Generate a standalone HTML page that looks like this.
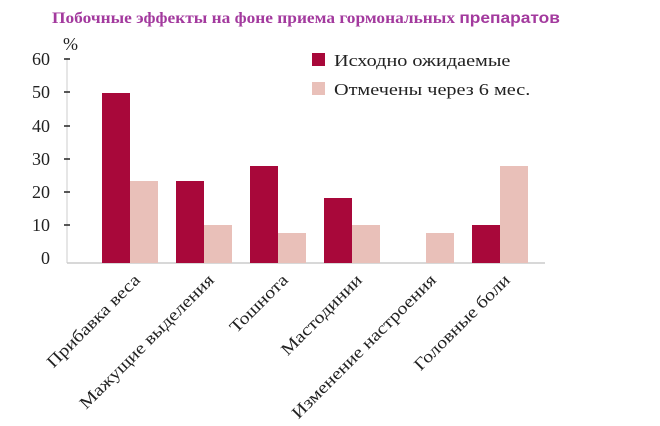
<!DOCTYPE html>
<html><head><meta charset="utf-8"><style>
body{margin:0;background:#fff;width:660px;height:421px;overflow:hidden}
svg text{font-family:"Liberation Serif",serif}
</style></head><body>
<svg width="660" height="421" xmlns="http://www.w3.org/2000/svg">
<text transform="translate(52,23) scale(1.12,1)" font-size="15.5" font-weight="bold" fill="#a33a9e">Побочные эффекты на фоне приема гормональных <tspan font-family="Liberation Sans, sans-serif">препаратов</tspan></text>
<text x="63" y="50" font-size="18" fill="#222">%</text>
<line x1="67" y1="58" x2="67" y2="263" stroke="#ccc" stroke-width="1"/>
<line x1="67" y1="263" x2="545" y2="263" stroke="#ccc" stroke-width="1.5"/>
<g stroke="#222" stroke-width="1.5">
<line x1="64" y1="59" x2="70" y2="59"/><line x1="64" y1="92" x2="70" y2="92"/><line x1="64" y1="126" x2="70" y2="126"/><line x1="64" y1="159" x2="70" y2="159"/><line x1="64" y1="192" x2="70" y2="192"/><line x1="64" y1="225" x2="70" y2="225"/>
</g>
<g font-size="18" fill="#222" text-anchor="end">
<text x="50" y="65">60</text><text x="50" y="98">50</text><text x="50" y="132">40</text><text x="50" y="165">30</text><text x="50" y="198">20</text><text x="50" y="231">10</text><text x="50" y="264">0</text>
</g>
<g fill="#a8083a">
<rect x="102" y="93" width="28" height="170"/>
<rect x="176" y="181" width="28" height="82"/>
<rect x="250" y="166" width="28" height="97"/>
<rect x="324" y="198" width="28" height="65"/>
<rect x="472" y="225" width="28" height="38"/>
</g>
<g fill="#e9c0b9">
<rect x="130" y="181" width="28" height="82"/>
<rect x="204" y="225" width="28" height="38"/>
<rect x="278" y="233" width="28" height="30"/>
<rect x="352" y="225" width="28" height="38"/>
<rect x="426" y="233" width="28" height="30"/>
<rect x="500" y="166" width="28" height="97"/>
</g>
<rect x="312" y="53" width="13" height="13" fill="#a8083a"/>
<rect x="312" y="82" width="13" height="13" fill="#e9c0b9"/>
<g font-size="17" fill="#222">
<text transform="translate(334,66) scale(1.19,1)">Исходно ожидаемые</text>
<text transform="translate(334,95) scale(1.19,1)">Отмечены через 6 мес.</text>
</g>
<g font-size="17" fill="#222" text-anchor="end">
<text transform="translate(141,281) rotate(-45) scale(1.18,1)">Прибавка веса</text>
<text transform="translate(215,281) rotate(-45) scale(1.18,1)">Мажущие выделения</text>
<text transform="translate(289,281) rotate(-45) scale(1.18,1)">Тошнота</text>
<text transform="translate(363,281) rotate(-45) scale(1.18,1)">Мастодинии</text>
<text transform="translate(437,281) rotate(-45) scale(1.18,1)">Изменение настроения</text>
<text transform="translate(511,281) rotate(-45) scale(1.18,1)">Головные боли</text>
</g>
</svg>
</body></html>
